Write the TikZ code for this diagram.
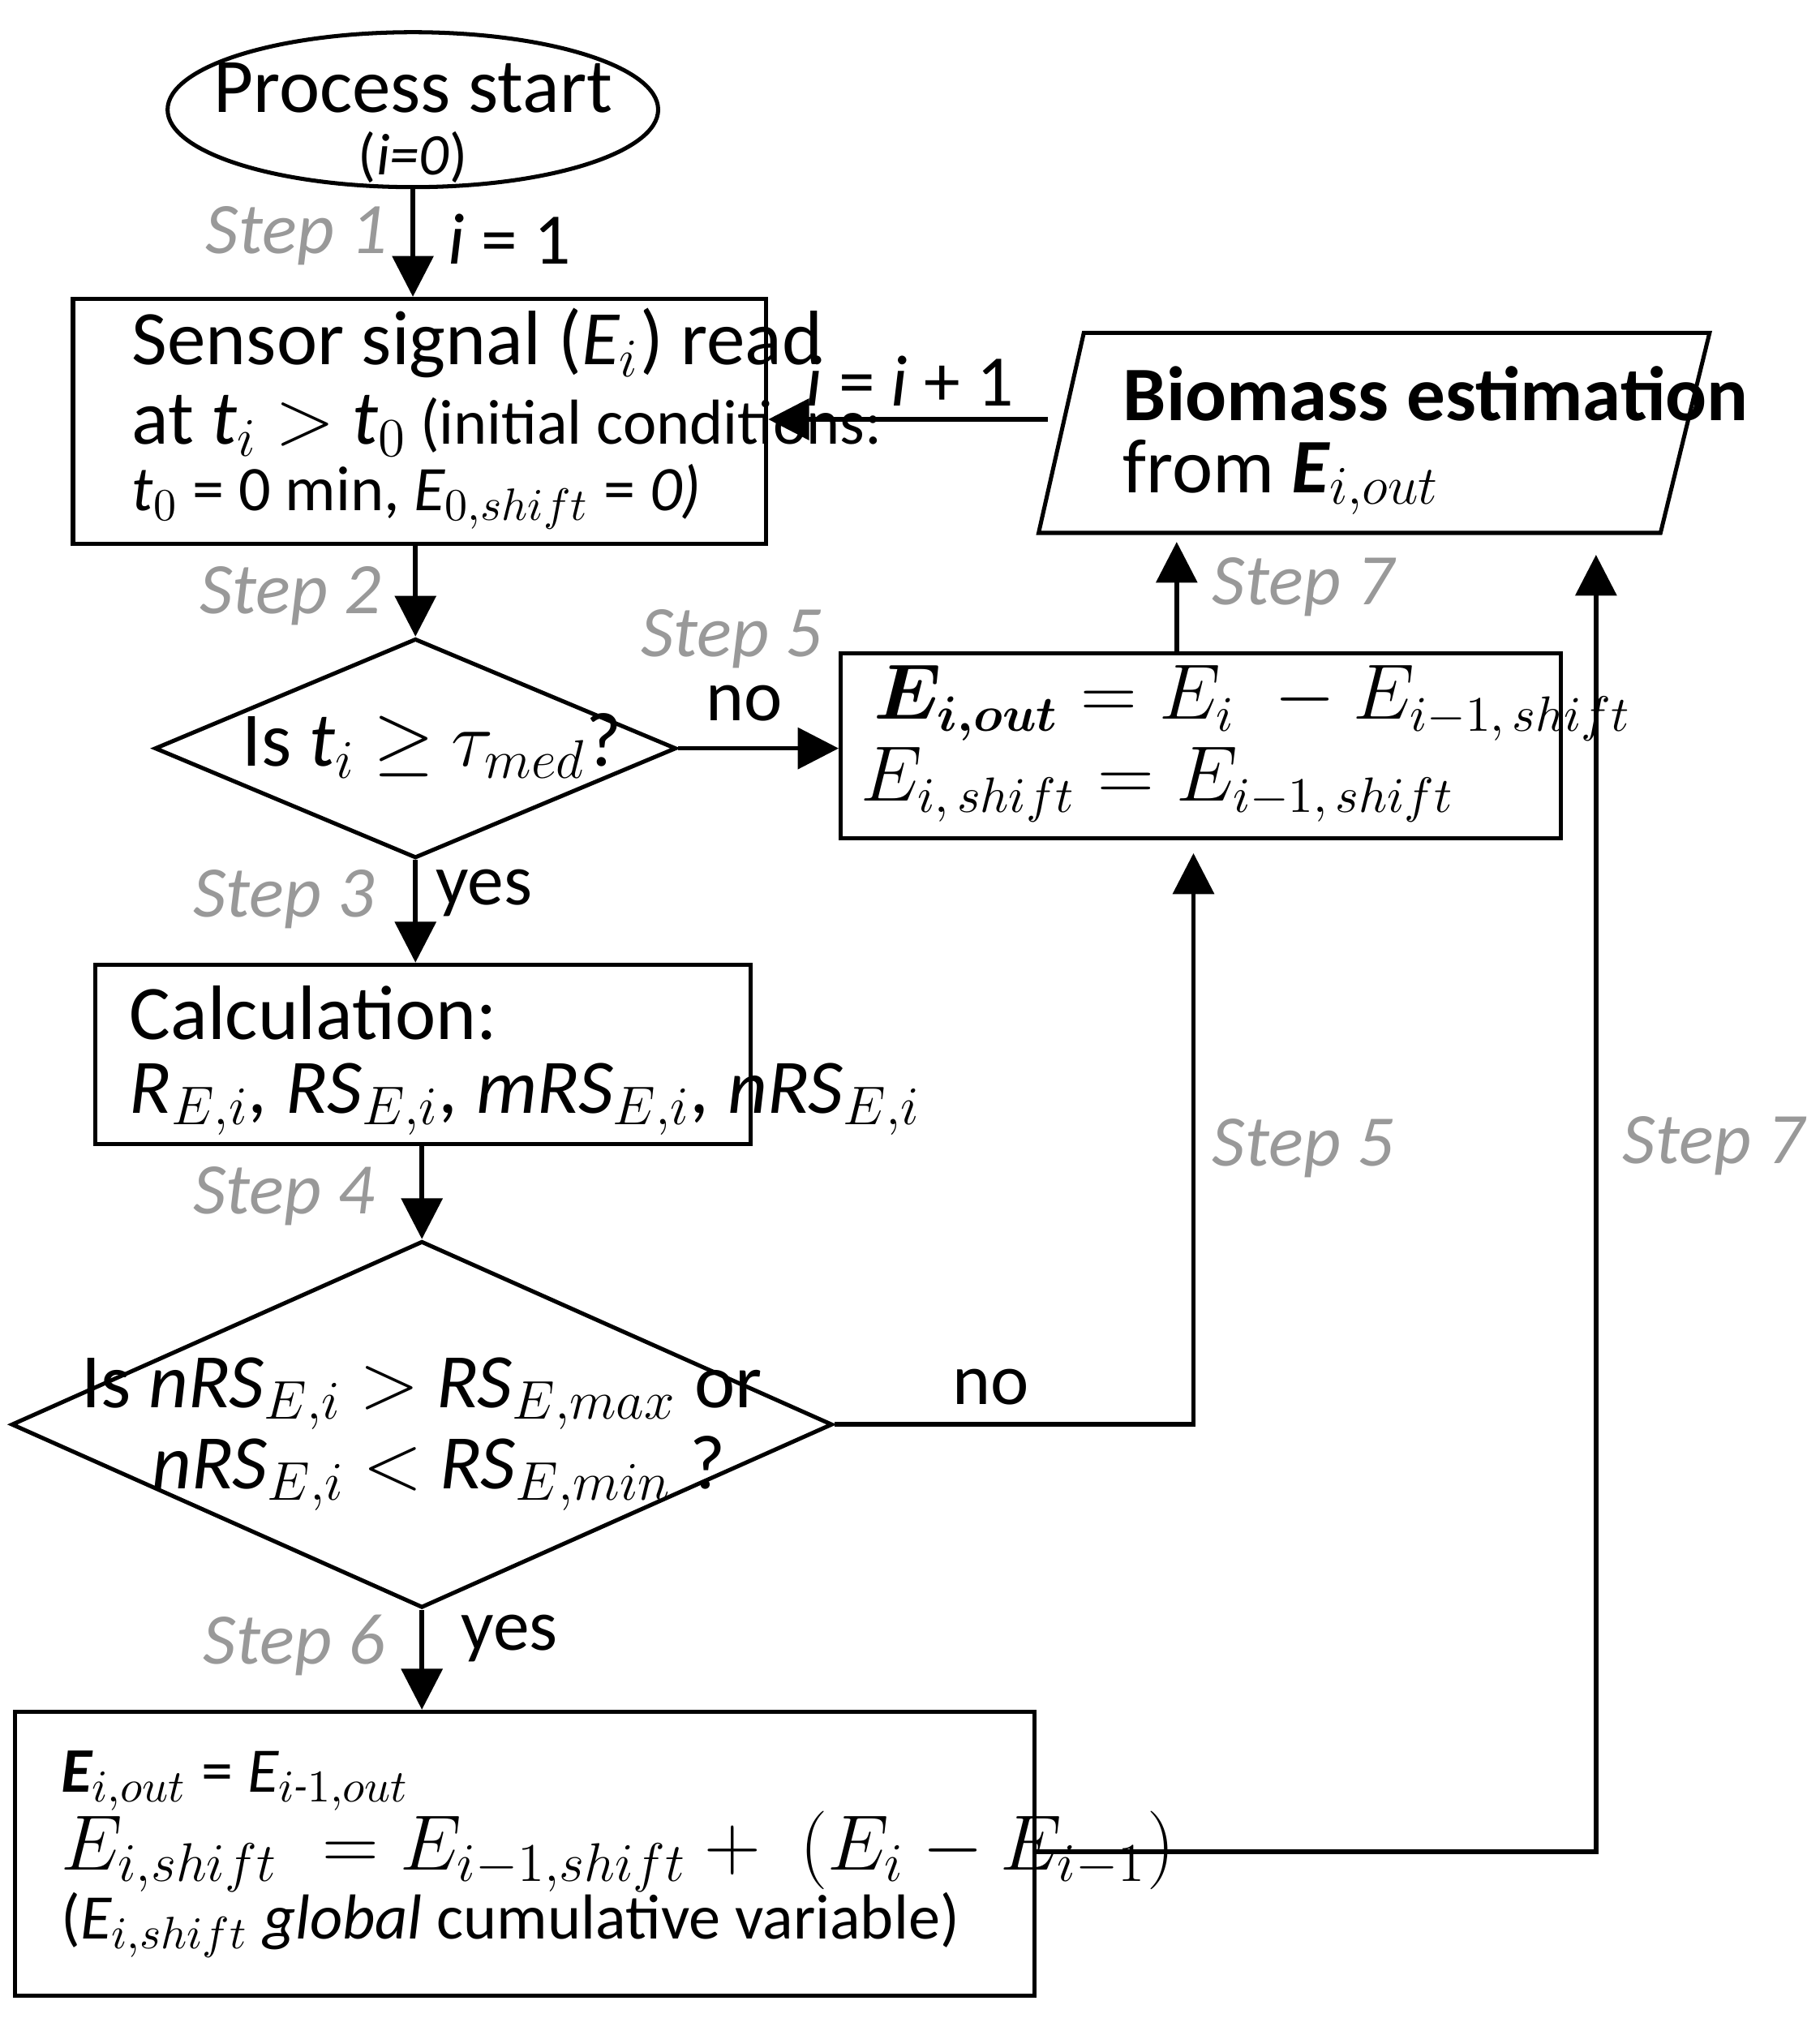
\documentclass[tikz,border=0pt]{standalone}
\usepackage{amsmath,bm}
\usepackage{fontspec}
\setmainfont{Carlito}
\usetikzlibrary{shapes.geometric,arrows.meta}
\begin{document}
\begin{tikzpicture}[x=0.01cm,y=-0.01cm,
  every node/.style={font=\fontsize{15}{18}\selectfont},
  box/.style={draw,line width=0.9pt,rectangle,inner sep=0pt,anchor=north west},
  dia/.style={draw,line width=0.9pt,diamond,inner sep=0pt},
  arr/.style={-{Triangle[length=9pt,width=9pt]},line width=1pt},
  steplab/.style={gray!80,font=\fontsize{16}{18}\selectfont\itshape},
  lab/.style={font=\fontsize{16}{18}\selectfont}]
\useasboundingbox (0,0) rectangle (1410,1564);
% nodes
\node[draw,ellipse,line width=0.9pt,inner sep=0pt,minimum width=3.8cm,minimum height=1.2cm] (st) at (320,85) {};
\node at (320,68) {\fontsize{17}{20}\selectfont Process start};
\node at (320,122) {\fontsize{13}{15}\selectfont(\textit{i=0})};

\node[box,minimum width=5.37cm,minimum height=1.9cm] (b1) at (55,230) {};
\node[anchor=west] at (90,266) {\fontsize{17}{20}\selectfont Sensor signal (\textit{E$_i$}) read};
\node[anchor=west] at (90,330) {\fontsize{17}{20}\selectfont at \textit{t$_i$} $>$ \textit{t$_0$}\,{\fontsize{14}{16}\selectfont (initial conditions:}};
\node[anchor=west] at (90,385) {\fontsize{14}{16}\selectfont \textit{t$_0$} = 0 min, \textit{E$_{0,shift}$} = \textit{0)}};

\node[dia,minimum width=4.04cm,minimum height=1.7cm,aspect=2.4] (d1) at (322,580) {};
\node at (335,578) {\fontsize{17}{20}\selectfont Is \textit{t$_i$} $\geq$ \textit{$\tau_{med}$}?};

\node[box,minimum width=5.58cm,minimum height=1.43cm] (b5) at (650,505) {};
\node[anchor=west] at (665,545) {\fontsize{16}{18}\selectfont $\bm{E_{i,out}}=E_i\;-E_{i-1,\,shift}$};
\node[anchor=west] at (655,608) {\fontsize{16}{18}\selectfont $E_{i,\,shift}=E_{i-1,\,shift}$};

\draw[line width=0.9pt] (840,258) -- (1325,258) -- (1287,413) -- (805,413) -- cycle;
\coordinate (pl) at (812,325);
\coordinate (plb) at (912,420);
\coordinate (plb2) at (1237,430);
\node[anchor=west] at (858,305) {\fontsize{17}{20}\selectfont\bfseries Biomass estimation};
\node[anchor=west] at (858,370) {\fontsize{17}{20}\selectfont from \textbf{\textit{E$_{i,out}$}}};

\node[box,minimum width=5.08cm,minimum height=1.39cm] (bc) at (72,746) {};
\node[anchor=west] at (88,785) {\fontsize{17}{20}\selectfont Calculation:};
\node[anchor=west] at (88,852) {\fontsize{17}{20}\selectfont\itshape R$_{E,i}$, RS$_{E,i}$, mRS$_{E,i}$, nRS$_{E,i}$};

\node[dia,minimum width=6.36cm,minimum height=2.84cm,aspect=2.24] (d2) at (327,1104) {};
\node at (327,1080) {\fontsize{17}{20}\selectfont Is \textit{nRS$_{E,i}$} $>$ \textit{RS$_{E,max}$} or};
\node at (340,1142) {\fontsize{17}{20}\selectfont \textit{nRS$_{E,i}$} $<$ \textit{RS$_{E,min}$} ?};

\node[box,minimum width=7.9cm,minimum height=2.2cm] (b6) at (10,1325) {};
\node[anchor=west] at (35,1380) {\fontsize{14}{16}\selectfont\textbf{\textit{E$_{i,out}$}} = \textit{E$_{i\text{-}1,out}$}};
\node[anchor=west] at (35,1435) {\fontsize{17}{20}\selectfont $E_{i,shift}\;=E_{i-1,shift}+\;(E_i-E_{i-1})$};
\node[anchor=west] at (35,1492) {\fontsize{14}{16}\selectfont (\textit{E$_{i,shift}$ global} cumulative variable)};

% connectors
\draw[arr] (st.south) -- (b1.north -| st.south);
\draw[arr] (b1.south -| d1.north) -- (d1.north);
\draw[arr] (d1.east) -- (b5.west |- d1.east);
\draw[arr] (b5.north -| plb) -- (plb);
\draw[arr] (pl) -- (b1.east |- pl);
\draw[arr] (d1.south) -- (bc.north -| d1.south);
\draw[arr] (bc.south -| d2.north) -- (d2.north);
\draw[arr] (d2.east) -- (925,1104) -- ([yshift=-0.1cm]b5.south -| 925,0);
\draw[arr] (d2.south) -- (b6.north -| d2.south);
\draw[arr] (b6.east |- 0,1435) -- (1237,1435) -- (plb2);

% labels
\node[steplab] at (230,183) {Step 1};
\node[lab] at (395,185) {\textit{i} = 1};
\node[steplab] at (225,462) {Step 2};
\node[steplab] at (567,495) {Step 5};
\node[lab] at (577,545) {no};
\node[steplab] at (1010,455) {Step 7};
\node[lab] at (705,295) {\textit{i} = \textit{i} + 1};
\node[steplab] at (220,697) {Step 3};
\node[lab] at (375,692) {yes};
\node[steplab] at (220,927) {Step 4};
\node[lab] at (768,1075) {no};
\node[steplab] at (1010,890) {Step 5};
\node[steplab] at (228,1275) {Step 6};
\node[lab] at (395,1270) {yes};
\node[steplab] at (1328,888) {Step 7};
\end{tikzpicture}
\end{document}
